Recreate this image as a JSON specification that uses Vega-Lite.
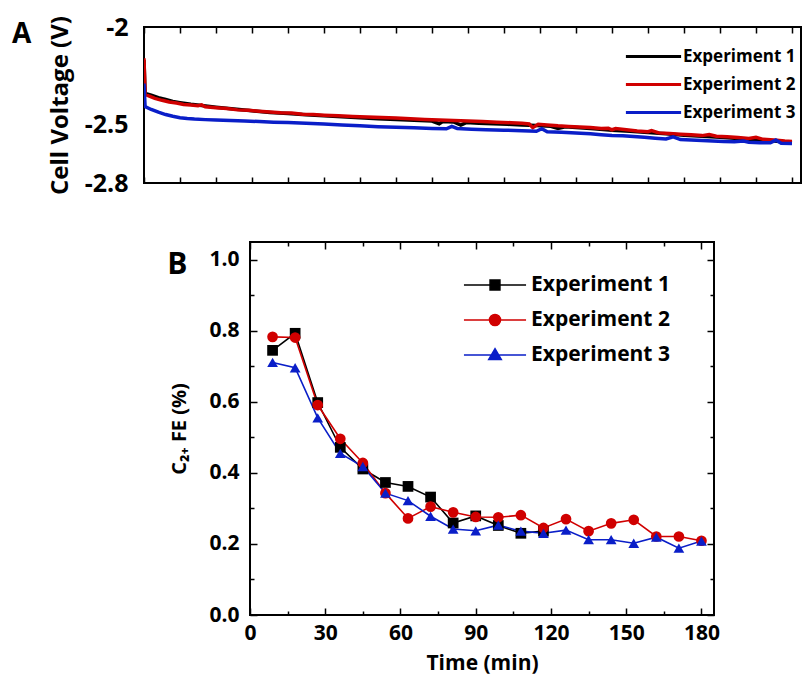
{
  "$schema": "https://vega.github.io/schema/vega-lite/v6.json",
  "background": "white",
  "padding": {"left": 10, "top": 14, "right": 0, "bottom": 0},
  "config": {
    "font": "Open Sans",
    "view": {"stroke": null},
    "axis": {
      "domain": false,
      "grid": false,
      "labelFont": "Open Sans",
      "labelFontWeight": "bold",
      "labelColor": "black",
      "titleFont": "Open Sans",
      "titleFontWeight": "bold",
      "titleColor": "black",
      "tickColor": "black",
      "tickWidth": 1.5,
      "labelFlush": false,
      "labelOverlap": false
    },
    "legend": {
      "labelFont": "Open Sans",
      "labelFontWeight": "bold",
      "labelColor": "black",
      "labelLimit": 0,
      "padding": 0
    }
  },
  "datasets": {
    "voltage": [
      {"t": 0, "v": -2.17, "exp": "Experiment 1"},
      {"t": 0.3, "v": -2.34, "exp": "Experiment 1"},
      {"t": 2, "v": -2.35, "exp": "Experiment 1"},
      {"t": 4, "v": -2.362, "exp": "Experiment 1"},
      {"t": 6, "v": -2.372, "exp": "Experiment 1"},
      {"t": 8, "v": -2.382, "exp": "Experiment 1"},
      {"t": 10, "v": -2.388, "exp": "Experiment 1"},
      {"t": 13, "v": -2.396, "exp": "Experiment 1"},
      {"t": 16, "v": -2.402, "exp": "Experiment 1"},
      {"t": 20, "v": -2.411, "exp": "Experiment 1"},
      {"t": 25, "v": -2.421, "exp": "Experiment 1"},
      {"t": 30, "v": -2.43, "exp": "Experiment 1"},
      {"t": 35, "v": -2.438, "exp": "Experiment 1"},
      {"t": 40, "v": -2.444, "exp": "Experiment 1"},
      {"t": 45, "v": -2.45, "exp": "Experiment 1"},
      {"t": 50, "v": -2.455, "exp": "Experiment 1"},
      {"t": 55, "v": -2.46, "exp": "Experiment 1"},
      {"t": 60, "v": -2.466, "exp": "Experiment 1"},
      {"t": 65, "v": -2.47, "exp": "Experiment 1"},
      {"t": 70, "v": -2.474, "exp": "Experiment 1"},
      {"t": 75, "v": -2.478, "exp": "Experiment 1"},
      {"t": 80, "v": -2.482, "exp": "Experiment 1"},
      {"t": 82, "v": -2.496, "exp": "Experiment 1"},
      {"t": 83, "v": -2.485, "exp": "Experiment 1"},
      {"t": 86, "v": -2.487, "exp": "Experiment 1"},
      {"t": 88, "v": -2.503, "exp": "Experiment 1"},
      {"t": 89.5, "v": -2.49, "exp": "Experiment 1"},
      {"t": 93, "v": -2.493, "exp": "Experiment 1"},
      {"t": 97, "v": -2.496, "exp": "Experiment 1"},
      {"t": 101, "v": -2.499, "exp": "Experiment 1"},
      {"t": 105, "v": -2.502, "exp": "Experiment 1"},
      {"t": 109, "v": -2.505, "exp": "Experiment 1"},
      {"t": 113, "v": -2.509, "exp": "Experiment 1"},
      {"t": 115, "v": -2.52, "exp": "Experiment 1"},
      {"t": 117, "v": -2.512, "exp": "Experiment 1"},
      {"t": 120, "v": -2.516, "exp": "Experiment 1"},
      {"t": 125, "v": -2.522, "exp": "Experiment 1"},
      {"t": 130, "v": -2.53, "exp": "Experiment 1"},
      {"t": 135, "v": -2.535, "exp": "Experiment 1"},
      {"t": 140, "v": -2.541, "exp": "Experiment 1"},
      {"t": 145, "v": -2.548, "exp": "Experiment 1"},
      {"t": 150, "v": -2.555, "exp": "Experiment 1"},
      {"t": 155, "v": -2.56, "exp": "Experiment 1"},
      {"t": 160, "v": -2.566, "exp": "Experiment 1"},
      {"t": 165, "v": -2.572, "exp": "Experiment 1"},
      {"t": 170, "v": -2.578, "exp": "Experiment 1"},
      {"t": 175, "v": -2.585, "exp": "Experiment 1"},
      {"t": 180, "v": -2.592, "exp": "Experiment 1"},

      {"t": 0, "v": -2.16, "exp": "Experiment 2"},
      {"t": 0.3, "v": -2.345, "exp": "Experiment 2"},
      {"t": 1.5, "v": -2.355, "exp": "Experiment 2"},
      {"t": 3, "v": -2.366, "exp": "Experiment 2"},
      {"t": 5, "v": -2.376, "exp": "Experiment 2"},
      {"t": 7, "v": -2.385, "exp": "Experiment 2"},
      {"t": 9, "v": -2.39, "exp": "Experiment 2"},
      {"t": 11, "v": -2.397, "exp": "Experiment 2"},
      {"t": 13, "v": -2.4, "exp": "Experiment 2"},
      {"t": 15, "v": -2.404, "exp": "Experiment 2"},
      {"t": 16, "v": -2.399, "exp": "Experiment 2"},
      {"t": 17, "v": -2.409, "exp": "Experiment 2"},
      {"t": 20, "v": -2.414, "exp": "Experiment 2"},
      {"t": 23, "v": -2.418, "exp": "Experiment 2"},
      {"t": 26, "v": -2.425, "exp": "Experiment 2"},
      {"t": 29, "v": -2.427, "exp": "Experiment 2"},
      {"t": 32, "v": -2.432, "exp": "Experiment 2"},
      {"t": 35, "v": -2.436, "exp": "Experiment 2"},
      {"t": 38, "v": -2.44, "exp": "Experiment 2"},
      {"t": 41, "v": -2.441, "exp": "Experiment 2"},
      {"t": 44, "v": -2.447, "exp": "Experiment 2"},
      {"t": 47, "v": -2.449, "exp": "Experiment 2"},
      {"t": 50, "v": -2.452, "exp": "Experiment 2"},
      {"t": 54, "v": -2.455, "exp": "Experiment 2"},
      {"t": 58, "v": -2.459, "exp": "Experiment 2"},
      {"t": 62, "v": -2.462, "exp": "Experiment 2"},
      {"t": 66, "v": -2.464, "exp": "Experiment 2"},
      {"t": 70, "v": -2.467, "exp": "Experiment 2"},
      {"t": 74, "v": -2.471, "exp": "Experiment 2"},
      {"t": 78, "v": -2.474, "exp": "Experiment 2"},
      {"t": 82, "v": -2.477, "exp": "Experiment 2"},
      {"t": 86, "v": -2.479, "exp": "Experiment 2"},
      {"t": 90, "v": -2.482, "exp": "Experiment 2"},
      {"t": 94, "v": -2.485, "exp": "Experiment 2"},
      {"t": 98, "v": -2.488, "exp": "Experiment 2"},
      {"t": 102, "v": -2.491, "exp": "Experiment 2"},
      {"t": 105, "v": -2.494, "exp": "Experiment 2"},
      {"t": 107, "v": -2.497, "exp": "Experiment 2"},
      {"t": 108, "v": -2.516, "exp": "Experiment 2"},
      {"t": 109.5, "v": -2.499, "exp": "Experiment 2"},
      {"t": 112, "v": -2.502, "exp": "Experiment 2"},
      {"t": 115, "v": -2.507, "exp": "Experiment 2"},
      {"t": 118, "v": -2.51, "exp": "Experiment 2"},
      {"t": 121, "v": -2.513, "exp": "Experiment 2"},
      {"t": 124, "v": -2.516, "exp": "Experiment 2"},
      {"t": 127, "v": -2.52, "exp": "Experiment 2"},
      {"t": 129, "v": -2.519, "exp": "Experiment 2"},
      {"t": 130, "v": -2.527, "exp": "Experiment 2"},
      {"t": 131, "v": -2.521, "exp": "Experiment 2"},
      {"t": 134, "v": -2.527, "exp": "Experiment 2"},
      {"t": 137, "v": -2.533, "exp": "Experiment 2"},
      {"t": 140, "v": -2.537, "exp": "Experiment 2"},
      {"t": 141, "v": -2.531, "exp": "Experiment 2"},
      {"t": 143, "v": -2.543, "exp": "Experiment 2"},
      {"t": 146, "v": -2.546, "exp": "Experiment 2"},
      {"t": 149, "v": -2.55, "exp": "Experiment 2"},
      {"t": 152, "v": -2.553, "exp": "Experiment 2"},
      {"t": 155, "v": -2.557, "exp": "Experiment 2"},
      {"t": 157, "v": -2.552, "exp": "Experiment 2"},
      {"t": 159, "v": -2.56, "exp": "Experiment 2"},
      {"t": 162, "v": -2.563, "exp": "Experiment 2"},
      {"t": 165, "v": -2.567, "exp": "Experiment 2"},
      {"t": 168, "v": -2.572, "exp": "Experiment 2"},
      {"t": 170, "v": -2.566, "exp": "Experiment 2"},
      {"t": 172, "v": -2.576, "exp": "Experiment 2"},
      {"t": 175, "v": -2.58, "exp": "Experiment 2"},
      {"t": 178, "v": -2.585, "exp": "Experiment 2"},
      {"t": 180, "v": -2.587, "exp": "Experiment 2"},

      {"t": 0, "v": -2.29, "exp": "Experiment 3"},
      {"t": 0.3, "v": -2.408, "exp": "Experiment 3"},
      {"t": 2, "v": -2.423, "exp": "Experiment 3"},
      {"t": 4, "v": -2.437, "exp": "Experiment 3"},
      {"t": 6, "v": -2.449, "exp": "Experiment 3"},
      {"t": 8, "v": -2.458, "exp": "Experiment 3"},
      {"t": 10, "v": -2.465, "exp": "Experiment 3"},
      {"t": 12, "v": -2.469, "exp": "Experiment 3"},
      {"t": 14, "v": -2.472, "exp": "Experiment 3"},
      {"t": 17, "v": -2.475, "exp": "Experiment 3"},
      {"t": 20, "v": -2.477, "exp": "Experiment 3"},
      {"t": 24, "v": -2.48, "exp": "Experiment 3"},
      {"t": 28, "v": -2.482, "exp": "Experiment 3"},
      {"t": 32, "v": -2.485, "exp": "Experiment 3"},
      {"t": 36, "v": -2.488, "exp": "Experiment 3"},
      {"t": 40, "v": -2.49, "exp": "Experiment 3"},
      {"t": 45, "v": -2.494, "exp": "Experiment 3"},
      {"t": 50, "v": -2.498, "exp": "Experiment 3"},
      {"t": 55, "v": -2.503, "exp": "Experiment 3"},
      {"t": 60, "v": -2.507, "exp": "Experiment 3"},
      {"t": 65, "v": -2.511, "exp": "Experiment 3"},
      {"t": 70, "v": -2.514, "exp": "Experiment 3"},
      {"t": 75, "v": -2.517, "exp": "Experiment 3"},
      {"t": 80, "v": -2.52, "exp": "Experiment 3"},
      {"t": 84, "v": -2.522, "exp": "Experiment 3"},
      {"t": 85.5, "v": -2.51, "exp": "Experiment 3"},
      {"t": 87, "v": -2.52, "exp": "Experiment 3"},
      {"t": 91, "v": -2.524, "exp": "Experiment 3"},
      {"t": 95, "v": -2.527, "exp": "Experiment 3"},
      {"t": 100, "v": -2.529, "exp": "Experiment 3"},
      {"t": 105, "v": -2.532, "exp": "Experiment 3"},
      {"t": 109, "v": -2.535, "exp": "Experiment 3"},
      {"t": 110.5, "v": -2.522, "exp": "Experiment 3"},
      {"t": 112, "v": -2.537, "exp": "Experiment 3"},
      {"t": 116, "v": -2.54, "exp": "Experiment 3"},
      {"t": 120, "v": -2.543, "exp": "Experiment 3"},
      {"t": 124, "v": -2.547, "exp": "Experiment 3"},
      {"t": 127, "v": -2.552, "exp": "Experiment 3"},
      {"t": 130, "v": -2.556, "exp": "Experiment 3"},
      {"t": 133, "v": -2.558, "exp": "Experiment 3"},
      {"t": 136, "v": -2.562, "exp": "Experiment 3"},
      {"t": 139, "v": -2.566, "exp": "Experiment 3"},
      {"t": 142, "v": -2.57, "exp": "Experiment 3"},
      {"t": 145, "v": -2.574, "exp": "Experiment 3"},
      {"t": 147, "v": -2.563, "exp": "Experiment 3"},
      {"t": 149, "v": -2.577, "exp": "Experiment 3"},
      {"t": 152, "v": -2.579, "exp": "Experiment 3"},
      {"t": 155, "v": -2.582, "exp": "Experiment 3"},
      {"t": 158, "v": -2.585, "exp": "Experiment 3"},
      {"t": 161, "v": -2.587, "exp": "Experiment 3"},
      {"t": 164, "v": -2.589, "exp": "Experiment 3"},
      {"t": 166.5, "v": -2.585, "exp": "Experiment 3"},
      {"t": 168, "v": -2.591, "exp": "Experiment 3"},
      {"t": 171, "v": -2.593, "exp": "Experiment 3"},
      {"t": 174, "v": -2.594, "exp": "Experiment 3"},
      {"t": 175.5, "v": -2.58, "exp": "Experiment 3"},
      {"t": 177, "v": -2.596, "exp": "Experiment 3"},
      {"t": 180, "v": -2.597, "exp": "Experiment 3"}
    ],
    "fe": [
      {"t": 9, "fe": 0.745, "exp": "Experiment 1"},
      {"t": 18, "fe": 0.793, "exp": "Experiment 1"},
      {"t": 27, "fe": 0.598, "exp": "Experiment 1"},
      {"t": 36, "fe": 0.472, "exp": "Experiment 1"},
      {"t": 45, "fe": 0.411, "exp": "Experiment 1"},
      {"t": 54, "fe": 0.373, "exp": "Experiment 1"},
      {"t": 63, "fe": 0.362, "exp": "Experiment 1"},
      {"t": 72, "fe": 0.332, "exp": "Experiment 1"},
      {"t": 81, "fe": 0.259, "exp": "Experiment 1"},
      {"t": 90, "fe": 0.279, "exp": "Experiment 1"},
      {"t": 99, "fe": 0.252, "exp": "Experiment 1"},
      {"t": 108, "fe": 0.23, "exp": "Experiment 1"},
      {"t": 117, "fe": 0.236, "exp": "Experiment 1"},

      {"t": 9, "fe": 0.783, "exp": "Experiment 2"},
      {"t": 18, "fe": 0.781, "exp": "Experiment 2"},
      {"t": 27, "fe": 0.591, "exp": "Experiment 2"},
      {"t": 36, "fe": 0.496, "exp": "Experiment 2"},
      {"t": 45, "fe": 0.428, "exp": "Experiment 2"},
      {"t": 54, "fe": 0.343, "exp": "Experiment 2"},
      {"t": 63, "fe": 0.272, "exp": "Experiment 2"},
      {"t": 72, "fe": 0.305, "exp": "Experiment 2"},
      {"t": 81, "fe": 0.289, "exp": "Experiment 2"},
      {"t": 90, "fe": 0.276, "exp": "Experiment 2"},
      {"t": 99, "fe": 0.275, "exp": "Experiment 2"},
      {"t": 108, "fe": 0.281, "exp": "Experiment 2"},
      {"t": 117, "fe": 0.245, "exp": "Experiment 2"},
      {"t": 126, "fe": 0.27, "exp": "Experiment 2"},
      {"t": 135, "fe": 0.236, "exp": "Experiment 2"},
      {"t": 144, "fe": 0.258, "exp": "Experiment 2"},
      {"t": 153, "fe": 0.268, "exp": "Experiment 2"},
      {"t": 162, "fe": 0.221, "exp": "Experiment 2"},
      {"t": 171, "fe": 0.221, "exp": "Experiment 2"},
      {"t": 180, "fe": 0.209, "exp": "Experiment 2"},

      {"t": 9, "fe": 0.711, "exp": "Experiment 3"},
      {"t": 18, "fe": 0.696, "exp": "Experiment 3"},
      {"t": 27, "fe": 0.555, "exp": "Experiment 3"},
      {"t": 36, "fe": 0.455, "exp": "Experiment 3"},
      {"t": 45, "fe": 0.418, "exp": "Experiment 3"},
      {"t": 54, "fe": 0.343, "exp": "Experiment 3"},
      {"t": 63, "fe": 0.322, "exp": "Experiment 3"},
      {"t": 72, "fe": 0.278, "exp": "Experiment 3"},
      {"t": 81, "fe": 0.242, "exp": "Experiment 3"},
      {"t": 90, "fe": 0.237, "exp": "Experiment 3"},
      {"t": 99, "fe": 0.253, "exp": "Experiment 3"},
      {"t": 108, "fe": 0.236, "exp": "Experiment 3"},
      {"t": 117, "fe": 0.23, "exp": "Experiment 3"},
      {"t": 126, "fe": 0.239, "exp": "Experiment 3"},
      {"t": 135, "fe": 0.212, "exp": "Experiment 3"},
      {"t": 144, "fe": 0.212, "exp": "Experiment 3"},
      {"t": 153, "fe": 0.202, "exp": "Experiment 3"},
      {"t": 162, "fe": 0.219, "exp": "Experiment 3"},
      {"t": 171, "fe": 0.188, "exp": "Experiment 3"},
      {"t": 180, "fe": 0.208, "exp": "Experiment 3"}
    ]
  },
  "spacing": 43,
  "resolve": {
    "scale": {"x": "independent", "y": "independent", "color": "independent"},
    "legend": {"color": "independent"}
  },
  "vconcat": [
    {
      "width": 657,
      "height": 156,
      "view": {"stroke": "black", "strokeWidth": 2},
      "data": {"name": "voltage"},
      "layer": [
        {
          "transform": [{"filter": "datum.exp !== 'Experiment 3'"}],
          "mark": {"type": "line", "strokeWidth": 3.5, "clip": true},
          "encoding": {
            "x": {
              "field": "t", "type": "quantitative",
              "scale": {"domain": [0, 182.5], "nice": false, "zero": false},
              "axis": {
                "orient": "bottom", "title": null, "labels": false,
                "values": [0, 10, 20, 30, 40, 50, 60, 70, 80, 90, 100, 110, 120, 130, 140, 150, 160, 170, 180],
                "tickSize": -6
              }
            },
            "y": {
              "field": "v", "type": "quantitative",
              "scale": {"domain": [-2.8, -2], "nice": false, "zero": false},
              "axis": {
                "orient": "left", "values": [-2, -2.5, -2.8], "ticks": false,
                "labelExpr": "'' + datum.value", "labelFontSize": 25, "labelPadding": 16,
                "title": "Cell Voltage (V)", "titleFontSize": 24, "titlePadding": 12
              }
            },
            "color": {
              "field": "exp", "type": "nominal",
              "scale": {
                "domain": ["Experiment 1", "Experiment 2", "Experiment 3"],
                "range": ["#000000", "#d00000", "#0a1ec8"]
              },
              "legend": {
                "title": null, "orient": "none", "legendX": 496, "legendY": 16,
                "symbolType": "M-2.3,0H2.3", "symbolSize": 576, "symbolStrokeWidth": 3,
                "labelFontSize": 17, "labelOffset": 16, "rowPadding": 6
              }
            }
          }
        },
        {
          "transform": [{"filter": "datum.exp === 'Experiment 3'"}],
          "mark": {"type": "line", "strokeWidth": 3.5, "clip": true},
          "encoding": {
            "x": {
              "field": "t", "type": "quantitative",
              "axis": {
                "orient": "top", "title": null, "labels": false,
                "values": [0, 10, 20, 30, 40, 50, 60, 70, 80, 90, 100, 110, 120, 130, 140, 150, 160, 170, 180],
                "tickSize": -6
              }
            },
            "y": {"field": "v", "type": "quantitative", "axis": null},
            "color": {"field": "exp", "type": "nominal"}
          }
        },
        {
          "data": {"values": [{"panel": "A"}]},
          "mark": {"type": "text", "align": "left", "baseline": "alphabetic", "font": "Open Sans", "fontSize": 28, "fontWeight": "bold", "color": "black"},
          "encoding": {
            "x": {"datum": -36.7, "type": "quantitative", "axis": null},
            "y": {"datum": -2.084, "type": "quantitative", "axis": null},
            "text": {"field": "panel"}
          }
        }
      ],
      "resolve": {"axis": {"x": "independent", "y": "independent"}}
    },
    {
      "spacing": 0,
      "hconcat": [
        {
          "width": 22,
          "height": 10,
          "view": {"stroke": null},
          "data": {"values": []},
          "mark": "text"
        },
        {
          "width": 464,
          "height": 373,
          "view": {"stroke": "black", "strokeWidth": 2},
          "data": {"name": "fe"},
          "layer": [
            {
              "mark": {"type": "line", "strokeWidth": 1.6},
              "encoding": {
                "x": {
                  "field": "t", "type": "quantitative",
                  "scale": {"domain": [0, 185], "nice": false, "zero": false},
                  "axis": {
                    "orient": "bottom",
                    "values": [0, 15, 30, 45, 60, 75, 90, 105, 120, 135, 150, 165, 180],
                    "labelExpr": "datum.value % 30 === 0 ? datum.label : ''",
                    "labelFontSize": 21, "labelPadding": 14,
                    "tickSize": {"condition": {"test": "datum.value % 30 !== 0", "value": -4}, "value": -7},
                    "title": "Time (min)", "titleFontSize": 21, "titlePadding": 6
                  }
                },
                "y": {
                  "field": "fe", "type": "quantitative",
                  "scale": {"domain": [0, 1.05], "nice": false, "zero": false},
                  "axis": {
                    "orient": "left",
                    "values": [0, 0.1, 0.2, 0.3, 0.4, 0.5, 0.6, 0.7, 0.8, 0.9, 1.0],
                    "labelExpr": "round(datum.value * 10) % 2 === 0 ? format(datum.value, '.1f') : ''",
                    "labelFontSize": 21, "labelPadding": 18,
                    "tickSize": {"condition": {"test": "round(datum.value * 10) % 2 === 1", "value": -4}, "value": -7},
                    "title": "C₂₊ FE (%)", "titleFontSize": 20, "titlePadding": 19
                  }
                },
                "color": {
                  "field": "exp", "type": "nominal",
                  "scale": {
                    "domain": ["Experiment 1", "Experiment 2", "Experiment 3"],
                    "range": ["#000000", "#d00000", "#0a1ec8"]
                  },
                  "legend": {
                    "title": null, "orient": "none", "legendX": 335, "legendY": 27,
                    "symbolSize": 900, "symbolStrokeWidth": 1.5,
                    "labelFontSize": 21, "labelOffset": 20, "rowPadding": 9,
                    "encode": {
                      "symbols": {
                        "update": {
                          "shape": {"signal": "datum.value === 'Experiment 1' ? 'M-2.07,0H2.07M-0.33,-0.33H0.33V0.33H-0.33Z' : datum.value === 'Experiment 2' ? 'M-2.07,0H2.07M-0.37,0A0.37,0.37,0,1,0,0.37,0A0.37,0.37,0,1,0,-0.37,0Z' : 'M-2.07,0H2.07M0,-0.42L0.42,0.3L-0.42,0.3Z'"},
                          "fill": {"signal": "datum.value === 'Experiment 1' ? '#000000' : datum.value === 'Experiment 2' ? '#d00000' : '#0a1ec8'"},
                          "stroke": {"signal": "datum.value === 'Experiment 1' ? '#000000' : datum.value === 'Experiment 2' ? '#d00000' : '#0a1ec8'"},
                          "opacity": {"value": 1}
                        }
                      }
                    }
                  }
                }
              }
            },
            {
              "mark": {"type": "point", "filled": true, "opacity": 1, "size": 115},
              "encoding": {
                "x": {
                  "field": "t", "type": "quantitative",
                  "axis": {
                    "orient": "top", "title": null, "labels": false,
                    "values": [0, 15, 30, 45, 60, 75, 90, 105, 120, 135, 150, 165, 180],
                    "tickSize": {"condition": {"test": "datum.value % 30 !== 0", "value": -4}, "value": -7}
                  }
                },
                "y": {
                  "field": "fe", "type": "quantitative",
                  "axis": {
                    "orient": "right", "title": null, "labels": false,
                    "values": [0, 0.1, 0.2, 0.3, 0.4, 0.5, 0.6, 0.7, 0.8, 0.9, 1.0],
                    "tickSize": {"condition": {"test": "round(datum.value * 10) % 2 === 1", "value": -4}, "value": -7}
                  }
                },
                "color": {"field": "exp", "type": "nominal"},
                "shape": {
                  "field": "exp", "type": "nominal",
                  "scale": {
                    "domain": ["Experiment 1", "Experiment 2", "Experiment 3"],
                    "range": ["square", "circle", "triangle-up"]
                  },
                  "legend": null
                }
              }
            },
            {
              "data": {"values": [{"panel": "B"}]},
              "mark": {"type": "text", "align": "left", "baseline": "alphabetic", "font": "Open Sans", "fontSize": 30, "fontWeight": "bold", "color": "black"},
              "encoding": {
                "x": {"datum": -33, "type": "quantitative", "axis": null},
                "y": {"datum": 0.96, "type": "quantitative", "axis": null},
                "text": {"field": "panel"}
              }
            }
          ],
          "resolve": {"axis": {"x": "independent", "y": "independent"}}
        }
      ]
    }
  ]
}
